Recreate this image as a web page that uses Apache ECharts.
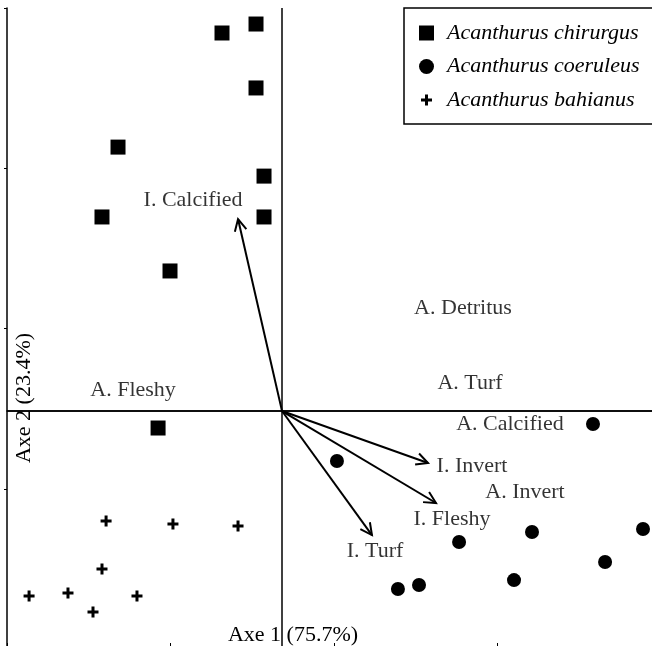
<!DOCTYPE html>
<html><head><meta charset="utf-8">
<script src="https://cdn.jsdelivr.net/npm/echarts@6/dist/echarts.min.js"></script>
<style>html,body{margin:0;padding:0;background:#fff}#c{width:652px;height:646px}</style>
</head><body><div id="c"></div>
<script>
// ---- data (biplot coordinates) ----
const seriesNames = ['Acanthurus chirurgus', 'Acanthurus coeruleus', 'Acanthurus bahianus'];
const chirurgusX = [-0.367, -0.159, -0.159, -1.003, -0.110, -1.101, -0.110, -0.685, -0.758];
const chirurgusY = [2.359, 2.415, 2.016, 1.647, 1.466, 1.211, 1.211, 0.874, -0.106];
const coeruleusX = [1.902, 0.336, 1.529, 2.208, 1.083, 1.976, 1.419, 0.709, 0.838];
const coeruleusY = [-0.081, -0.312, -0.755, -0.736, -0.817, -0.942, -1.055, -1.111, -1.086];
const bahianusX = [-1.076, -0.667, -0.269, -1.101, -1.547, -1.309, -0.887, -1.156];
const bahianusY = [-0.686, -0.705, -0.718, -0.986, -1.154, -1.136, -1.154, -1.254];
const arrowNames = ['I. Calcified', 'I. Invert', 'I. Fleshy', 'I. Turf'];
const arrowX = [-0.269, 0.893, 0.942, 0.550];
const arrowY = [1.198, -0.324, -0.574, -0.774];
const labelNames = ['I. Calcified', 'A. Detritus', 'A. Fleshy', 'A. Turf', 'A. Calcified', 'I. Invert', 'A. Invert', 'I. Fleshy', 'I. Turf'];
const labelX = [-0.544, 1.107, -0.911, 1.150, 1.394, 1.162, 1.486, 1.040, 0.569];
const labelY = [1.317, 0.643, 0.131, 0.175, -0.081, -0.343, -0.505, -0.674, -0.874];
const axisTitles = ['Axe 1 (75.7%)', 'Axe 2 (23.4%)'];

const FONT = "'Liberation Serif','Times New Roman',serif";
const SQUARE = 'path://M0,0H1V1H0Z';
const PLUS = 'path://M-2,-2M13,13M0,4H4V0H7V4H11V7H7V11H4V7H0Z';
const pairs = (xs, ys) => xs.map((x, i) => [x, ys[i]]);

const chart = echarts.init(document.getElementById('c'), null, {renderer: 'canvas'});
const frameLine = {show: true, lineStyle: {color: '#000', width: 1.5}};
chart.setOption({
  animation: false,
  backgroundColor: '#fff',
  grid: {left: 7, top: 8, width: 654, height: 641, containLabel: false, outerBoundsMode: 'none'},
  xAxis: [
    {type: 'value', min: 0, max: 4, interval: 1, position: 'bottom', axisLine: frameLine,
     axisTick: {show: true, inside: true, length: 6, lineStyle: {color: '#000'}},
     axisLabel: {show: false}, splitLine: {show: false}},
    {type: 'value', min: 0, max: 4, interval: 1, position: 'top', axisLine: frameLine,
     axisTick: {show: false}, axisLabel: {show: false}, splitLine: {show: false}},
    {type: 'value', min: -1.682, max: 2.318, show: false, splitLine: {show: false}}
  ],
  yAxis: [
    {type: 'value', min: 0, max: 4, interval: 1, position: 'left', axisLine: frameLine,
     axisTick: {show: true, inside: false, length: 3, lineStyle: {color: '#000'}},
     axisLabel: {show: false}, splitLine: {show: false}},
    {type: 'value', min: -1.485, max: 2.515, show: false, splitLine: {show: false}}
  ],
  legend: {
    data: seriesNames, orient: 'vertical', left: 404, top: 8,
    padding: [14, 30, 13, 15], itemWidth: 15, itemHeight: 15, itemGap: 11.5,
    borderColor: '#000', borderWidth: 1.5, backgroundColor: '#fff',
    textStyle: {fontFamily: FONT, fontStyle: 'italic', fontSize: 22, color: '#000', padding: [0, 0, 0, 8]}
  },
  graphic: [
    {type: 'text', x: 293, y: 635, z: 10,
     style: {text: axisTitles[0], font: '22px ' + FONT, fill: '#000', align: 'center', verticalAlign: 'middle'}},
    {type: 'text', x: 24, y: 398, rotation: Math.PI / 2, z: 10,
     style: {text: axisTitles[1], font: '22px ' + FONT, fill: '#000', align: 'center', verticalAlign: 'middle'}}
  ],
  series: [
    {name: seriesNames[0], type: 'scatter', xAxisIndex: 2, yAxisIndex: 1, symbol: SQUARE, symbolKeepAspect: true,
     symbolSize: 15, itemStyle: {color: '#000', opacity: 1}, data: pairs(chirurgusX, chirurgusY), z: 5},
    {name: seriesNames[1], type: 'scatter', xAxisIndex: 2, yAxisIndex: 1, symbol: 'circle',
     symbolSize: 14, itemStyle: {color: '#000', opacity: 1}, data: pairs(coeruleusX, coeruleusY), z: 5},
    {name: seriesNames[2], type: 'scatter', xAxisIndex: 2, yAxisIndex: 1, symbol: PLUS, symbolKeepAspect: true,
     symbolSize: 15, itemStyle: {color: '#000', opacity: 1}, data: pairs(bahianusX, bahianusY), z: 5},
    {type: 'scatter', xAxisIndex: 2, yAxisIndex: 1, symbolSize: 0, silent: true,
     data: labelNames.map((n, i) => ({name: n, value: [labelX[i], labelY[i]]})),
     label: {show: true, position: 'inside', formatter: '{b}', fontFamily: FONT, fontSize: 22, color: '#000'},
     markLine: {silent: true, symbol: ['none', 'none'], label: {show: false},
       lineStyle: {color: '#000', width: 1.5, type: 'solid'},
       data: [{xAxis: 0}, {yAxis: 0}]}},
    {type: 'custom', xAxisIndex: 2, yAxisIndex: 1, silent: true, z: 4,
     data: arrowNames.map((n, i) => ({name: n, value: [arrowX[i], arrowY[i]]})),
     renderItem: function (params, api) {
       const o = api.coord([0, 0]);
       const t = api.coord([api.value(0), api.value(1)]);
       const ang = Math.atan2(t[1] - o[1], t[0] - o[0]);
       const L = 13, a = 0.47;
       const p1 = [t[0] - L * Math.cos(ang - a), t[1] - L * Math.sin(ang - a)];
       const p2 = [t[0] - L * Math.cos(ang + a), t[1] - L * Math.sin(ang + a)];
       return {type: 'group', children: [
         {type: 'line', shape: {x1: o[0], y1: o[1], x2: t[0], y2: t[1]}, style: {stroke: '#000', lineWidth: 2}},
         {type: 'polyline', shape: {points: [p1, t, p2]}, style: {stroke: '#000', lineWidth: 2, fill: null}}
       ]};
     }}
  ]
});
</script></body></html>
